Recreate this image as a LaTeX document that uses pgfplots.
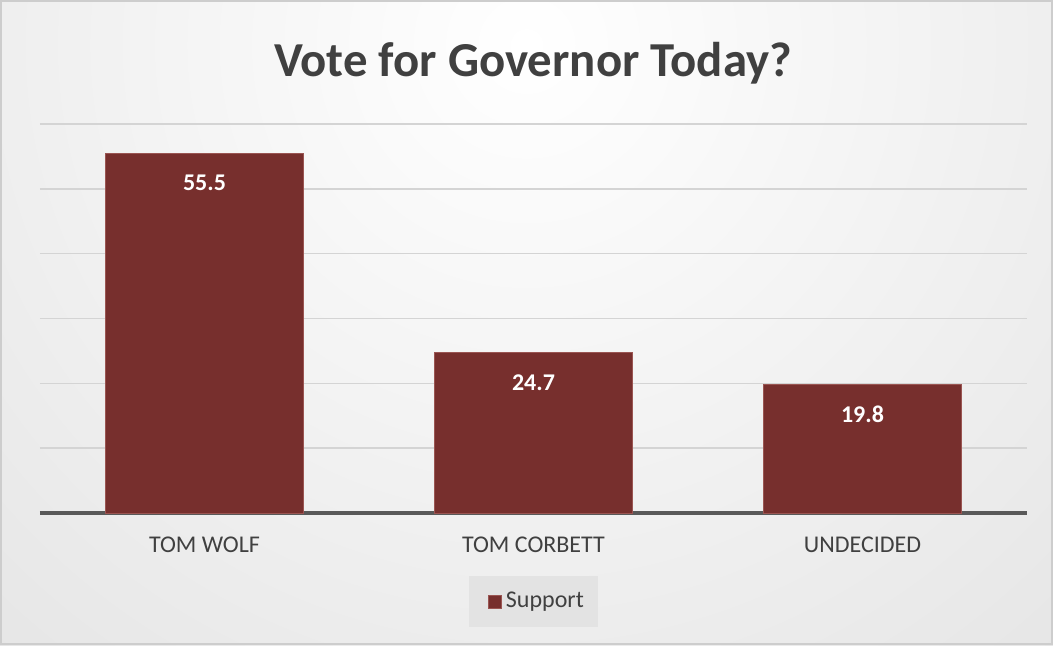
\documentclass[border=0pt]{standalone}
\usepackage{fontspec}
\setmainfont{Carlito}
\usepackage{pgfplots}
\pgfplotsset{compat=1.18}
\definecolor{barred}{HTML}{772F2D}
\definecolor{baredge}{HTML}{9A5552}
\definecolor{titlegray}{HTML}{404040}
\definecolor{txtgray}{HTML}{404040}
\definecolor{gridgray}{HTML}{D4D4D4}
\definecolor{axisgray}{HTML}{595959}
\definecolor{bgouter}{HTML}{D0D0D0}
\definecolor{legfill}{HTML}{E3E3E3}
\begin{document}
\begin{tikzpicture}
  \path[use as bounding box] (0pt,0pt) rectangle (526.5pt,322.5pt);
  \begin{scope}
    \clip (0pt,0pt) rectangle (526.5pt,322.5pt);
    \shade[inner color=white, outer color=bgouter] (263.25pt,300pt) circle (760pt);
  \end{scope}
  \draw[color={rgb,255:red,205;green,205;blue,205}, line width=1pt] (0.5pt,0.5pt) rectangle (526pt,322pt);
  \node[anchor=base, font=\bfseries\fontsize{24.4}{29}\selectfont, text=titlegray, inner sep=0pt] at (266.5pt,284.5pt) {Vote for Governor Today?};
  \begin{axis}[
    at={(20pt,66pt)}, anchor=south west,
    scale only axis, width=493.5pt, height=194.5pt,
    xmin=-0.5, xmax=2.5, ymin=0, ymax=60,
    axis line style={draw=none},
    xtick={0,1,2},
    xticklabels={TOM WOLF, TOM CORBETT, UNDECIDED},
    xticklabel style={font=\fontsize{12}{14}\selectfont, text=txtgray, yshift=-8.3pt},
    ytick={10,20,30,40,50,60},
    yticklabels={},
    ymajorgrids,
    grid style={color=gridgray, line width=0.75pt},
    extra y ticks={0},
    extra y tick labels={},
    extra y tick style={grid style={color=axisgray, line width=1.7pt}},
    major tick length=0pt,
    tick style={draw=none},
    clip=false,
    /pgf/number format/assume math mode=true,
    legend style={at={(0.5,-0.2275)}, anchor=center, fill=legfill, draw=none,
      font=\fontsize{12}{14}\selectfont, text=txtgray, inner xsep=5pt, inner ysep=6pt,
      legend cell align=left},
    legend image code/.code={\path (0pt,0pt); \fill[barred, draw=baredge, line width=0.4pt] (4.5pt,-3.3pt) rectangle (11pt,3.3pt);},
  ]
  \addplot[ybar, bar width=99pt, fill=barred, draw=baredge, line width=0.4pt,
    nodes near coords,
    nodes near coords style={anchor=north, yshift=-7.3pt, text=white, font=\bfseries\fontsize{12}{14}\selectfont,
      /pgf/number format/.cd, fixed, fixed zerofill, precision=1, assume math mode=true}]
    coordinates {(0,55.5) (1,24.7) (2,19.8)};
  \addlegendentry{Support}
  \end{axis}
\end{tikzpicture}
\end{document}
